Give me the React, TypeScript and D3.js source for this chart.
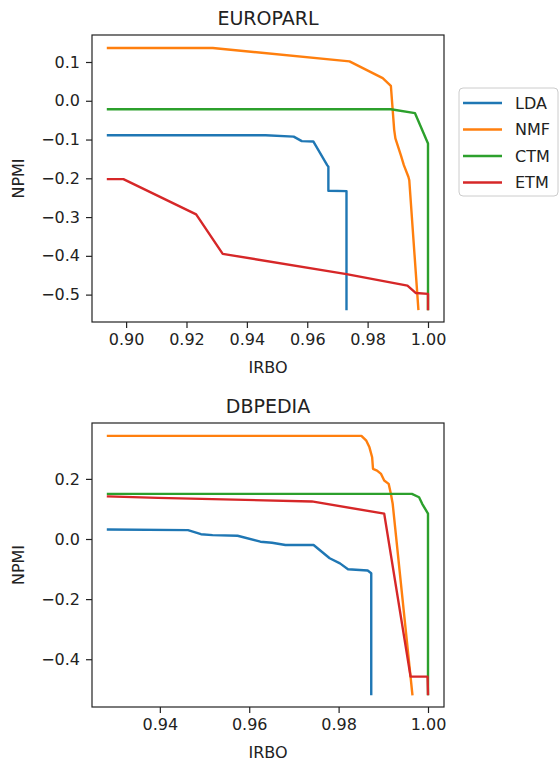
import { useEffect, useRef } from 'react';
import * as d3 from 'd3';

const models = ['LDA', 'NMF', 'CTM', 'ETM'];
const colors = ['#1f77b4', '#ff7f0e', '#2ca02c', '#d62728'];

// EUROPARL curves, [IRBO, NPMI]
const europarlLDA = [
  [0.894, -0.089], [0.9462, -0.089], [0.9555, -0.0926], [0.9582, -0.104], [0.962, -0.105],
  [0.9666, -0.166], [0.967, -0.17], [0.967, -0.232], [0.973, -0.233], [0.973, -0.537],
];
const europarlNMF = [
  [0.894, 0.136], [0.9287, 0.136], [0.974, 0.1017], [0.985, 0.0585], [0.9877, 0.0387],
  [0.9888, -0.075], [0.9892, -0.097], [0.991, -0.14], [0.992, -0.166], [0.9935, -0.196],
  [0.9938, -0.205], [0.9968, -0.537],
];
const europarlCTM = [
  [0.894, -0.0218], [0.9877, -0.0218], [0.9957, -0.032], [1.0, -0.11], [1.0, -0.537],
];
const europarlETM = [
  [0.894, -0.202], [0.8991, -0.202], [0.9232, -0.293], [0.932, -0.395], [0.973, -0.447],
  [0.9932, -0.477], [0.996, -0.496], [1.0, -0.498], [1.0, -0.537],
];

// DBPEDIA curves
const dbpediaLDA = [
  [0.9284, 0.0316], [0.9463, 0.0294], [0.9492, 0.016], [0.9518, 0.0128], [0.9574, 0.0107],
  [0.9625, -0.009], [0.9651, -0.0125], [0.9681, -0.02], [0.9744, -0.02], [0.978, -0.064],
  [0.9803, -0.081], [0.9821, -0.1005], [0.9865, -0.105], [0.9873, -0.114], [0.9873, -0.516],
];
const dbpediaNMF = [
  [0.9284, 0.343], [0.9851, 0.343], [0.9862, 0.327], [0.9869, 0.305], [0.9875, 0.272],
  [0.9877, 0.233], [0.9886, 0.2275], [0.9895, 0.2165], [0.9902, 0.1945], [0.9912, 0.1835],
  [0.9917, 0.15], [0.9921, 0.117], [0.9965, -0.516],
];
const dbpediaCTM = [
  [0.9284, 0.15], [0.9964, 0.15], [0.998, 0.139], [0.9987, 0.117], [1.0, 0.0844], [1.0, -0.516],
];
const dbpediaETM = [
  [0.9284, 0.1417], [0.9396, 0.137], [0.974, 0.125], [0.9902, 0.0844], [0.9961, -0.458],
  [0.9999, -0.458], [1.0, -0.516],
];

const europarlXTicks = [0.9, 0.92, 0.94, 0.96, 0.98, 1.0];
const europarlYTicks = [-0.5, -0.4, -0.3, -0.2, -0.1, 0.0, 0.1];
const dbpediaXTicks = [0.94, 0.96, 0.98, 1.0];
const dbpediaYTicks = [-0.4, -0.2, 0.0, 0.2];

const FONT = '"DejaVu Sans", sans-serif';
const INK = '#222';

function drawPanel(svg, opts) {
  const { title, series, xTicks, yTicks, xFmt, yFmt, left, right, top, bottom } = opts;
  const all = series.flat();
  const [x0, x1] = d3.extent(all, d => d[0]);
  const [y0, y1] = d3.extent(all, d => d[1]);
  const mx = (x1 - x0) * 0.05;
  const my = (y1 - y0) * 0.05;

  const x = d3.scaleLinear().domain([x0 - mx, x1 + mx]).range([left, right]);
  const y = d3.scaleLinear().domain([y0 - my, y1 + my]).range([bottom, top]);

  const g = svg.append('g');

  const line = d3.line().x(d => x(d[0])).y(d => y(d[1]));
  series.forEach((s, i) => {
    g.append('path')
      .attr('d', line(s))
      .attr('fill', 'none')
      .attr('stroke', colors[i])
      .attr('stroke-width', 2.4)
      .attr('stroke-linejoin', 'round')
      .attr('stroke-linecap', 'square');
  });

  // 축
  const xAxis = g.append('g')
    .attr('transform', `translate(0,${bottom})`)
    .call(d3.axisBottom(x).tickValues(xTicks).tickFormat(d3.format(xFmt)).tickSize(6).tickPadding(6).tickSizeOuter(0));
  const yAxis = g.append('g')
    .attr('transform', `translate(${left},0)`)
    .call(d3.axisLeft(y).tickValues(yTicks).tickFormat(d3.format(yFmt)).tickSize(6).tickPadding(6).tickSizeOuter(0));

  [xAxis, yAxis].forEach(a => {
    a.select('.domain').remove();
    a.selectAll('line').attr('stroke', INK).attr('stroke-width', 1.2);
    a.selectAll('text').attr('font-family', FONT).attr('font-size', 16).attr('fill', INK);
  });

  g.append('rect')
    .attr('x', left).attr('y', top)
    .attr('width', right - left).attr('height', bottom - top)
    .attr('fill', 'none').attr('stroke', INK).attr('stroke-width', 1.2);

  g.append('text')
    .attr('x', (left + right) / 2).attr('y', top - 10)
    .attr('text-anchor', 'middle')
    .attr('font-family', FONT).attr('font-size', 19).attr('fill', INK)
    .text(title);

  g.append('text')
    .attr('x', (left + right) / 2).attr('y', bottom + 51)
    .attr('text-anchor', 'middle')
    .attr('font-family', FONT).attr('font-size', 16).attr('fill', INK)
    .text('IRBO');

  g.append('text')
    .attr('transform', `translate(24,${(top + bottom) / 2}) rotate(-90)`)
    .attr('text-anchor', 'middle')
    .attr('font-family', FONT).attr('font-size', 16).attr('fill', INK)
    .text('NPMI');
}

export default function App() {
  const svgRef = useRef(null);

  useEffect(() => {
    if (!svgRef.current) return;
    const svg = d3.select(svgRef.current);
    svg.selectAll('*').remove();

    drawPanel(svg, {
      title: 'EUROPARL',
      series: [europarlLDA, europarlNMF, europarlCTM, europarlETM],
      xTicks: europarlXTicks, yTicks: europarlYTicks, xFmt: '.2f', yFmt: '.1f',
      left: 92, right: 444, top: 35, bottom: 322,
    });
    drawPanel(svg, {
      title: 'DBPEDIA',
      series: [dbpediaLDA, dbpediaNMF, dbpediaCTM, dbpediaETM],
      xTicks: dbpediaXTicks, yTicks: dbpediaYTicks, xFmt: '.2f', yFmt: '.1f',
      left: 92, right: 444, top: 423, bottom: 707,
    });

    // 범례
    const lg = svg.append('g');
    lg.append('rect')
      .attr('x', 459).attr('y', 88).attr('width', 99).attr('height', 108).attr('rx', 4)
      .attr('fill', 'white').attr('stroke', '#ccc').attr('stroke-width', 1);
    models.forEach((m, i) => {
      const yy = 103 + i * 26.5;
      lg.append('line')
        .attr('x1', 463).attr('x2', 502).attr('y1', yy).attr('y2', yy)
        .attr('stroke', colors[i]).attr('stroke-width', 2.4);
      lg.append('text')
        .attr('x', 515).attr('y', yy).attr('dy', '0.36em')
        .attr('font-family', FONT).attr('font-size', 16).attr('fill', INK)
        .text(m);
    });
  }, []);

  return (
    <svg
      ref={svgRef}
      width={560}
      height={762}
      style={{ position: 'absolute', left: 0, top: 0, background: 'white' }}
    />
  );
}
